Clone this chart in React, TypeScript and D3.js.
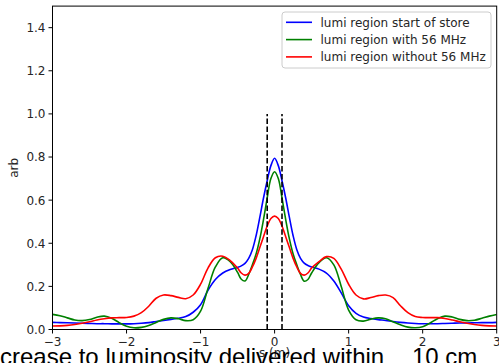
import React from "react";
import * as d3 from "d3";

const S = [
  -3.0, -2.9, -2.8, -2.7, -2.6, -2.5, -2.4, -2.3, -2.2, -2.1, -2.0, -1.9, -1.8, -1.7, -1.6, -1.5, -1.4, -1.3, -1.2, -1.1, -1.0, -0.9, -0.8, -0.7, -0.6,
  -0.5, -0.45, -0.4, -0.35, -0.3, -0.25, -0.2, -0.15, -0.1, -0.05, 0, 0.05, 0.1, 0.15, 0.2, 0.25, 0.3, 0.35, 0.4, 0.45, 0.5,
  0.6, 0.7, 0.8, 0.9, 1.0, 1.1, 1.2, 1.3, 1.4, 1.5, 1.6, 1.7, 1.8, 1.9, 2.0, 2.1, 2.2, 2.3, 2.4, 2.5, 2.6, 2.7, 2.8, 2.9, 3.0,
];

const blueStart = [
  0.033, 0.032, 0.031, 0.030, 0.029, 0.028, 0.027, 0.027, 0.026, 0.026, 0.026, 0.027, 0.029, 0.032, 0.037, 0.042, 0.047, 0.052, 0.060, 0.080, 0.115, 0.182, 0.232, 0.262, 0.278,
  0.288, 0.295, 0.307, 0.33, 0.37, 0.435, 0.52, 0.61, 0.69, 0.76, 0.794, 0.76, 0.69, 0.61, 0.52, 0.435, 0.37, 0.33, 0.308, 0.297, 0.29,
  0.28, 0.262, 0.225, 0.17, 0.11, 0.075, 0.058, 0.051, 0.046, 0.042, 0.037, 0.033, 0.030, 0.028, 0.027, 0.027, 0.027, 0.028, 0.029, 0.030, 0.030, 0.031, 0.032, 0.032, 0.033,
];

const greenWith = [
  0.070, 0.064, 0.054, 0.044, 0.041, 0.046, 0.057, 0.062, 0.052, 0.032, 0.015, 0.008, 0.010, 0.019, 0.033, 0.047, 0.054, 0.050, 0.041, 0.045, 0.085, 0.19, 0.29, 0.333, 0.315,
  0.265, 0.233, 0.225, 0.255, 0.30, 0.35, 0.42, 0.51, 0.61, 0.70, 0.732, 0.70, 0.61, 0.51, 0.42, 0.35, 0.30, 0.255, 0.224, 0.232, 0.262,
  0.31, 0.333, 0.30, 0.20, 0.09, 0.045, 0.039, 0.048, 0.054, 0.050, 0.036, 0.022, 0.011, 0.008, 0.013, 0.030, 0.050, 0.062, 0.058, 0.047, 0.041, 0.043, 0.052, 0.062, 0.070,
];

const redWithout = [
  0.016, 0.017, 0.019, 0.023, 0.029, 0.036, 0.044, 0.050, 0.054, 0.055, 0.056, 0.062, 0.078, 0.108, 0.145, 0.160, 0.157, 0.149, 0.143, 0.160, 0.21, 0.285, 0.333, 0.340, 0.32,
  0.285, 0.262, 0.252, 0.26, 0.29, 0.33, 0.38, 0.43, 0.48, 0.515, 0.526, 0.515, 0.48, 0.43, 0.38, 0.33, 0.29, 0.26, 0.252, 0.262, 0.285,
  0.315, 0.338, 0.33, 0.28, 0.21, 0.16, 0.142, 0.148, 0.157, 0.160, 0.148, 0.110, 0.078, 0.060, 0.056, 0.055, 0.055, 0.051, 0.044, 0.036, 0.029, 0.023, 0.019, 0.017, 0.016,
];

const seriesNames = ["lumi region start of store", "lumi region with 56 MHz", "lumi region without 56 MHz"];
const seriesColors = ["#0000ff", "#008000", "#ff0000"];
const seriesValues = [blueStart, greenWith, redWithout];

const xTicks = [-3, -2, -1, 0, 1, 2, 3];
const yTicks = [0, 0.2, 0.4, 0.6, 0.8, 1.0, 1.2, 1.4];
const dashedX = [-0.1, 0.1];
const dashedTop = 1.0;

const W = 499;
const H = 363;
const L = 52.5, R = 496.7, T = 6.1, B = 329.5;

export default function App() {
  const x = d3.scaleLinear().domain([-3, 3]).range([L, R]);
  const y = d3.scaleLinear().domain([0, 1.5]).range([B, T]);
  const line = d3
    .line<number>()
    .x((_, i) => x(S[i]))
    .y((v) => y(v))
    .curve(d3.curveCatmullRom.alpha(0.5));
  const fmtMinus = (v: number) => String(v).replace("-", "\u2212");
  const font = "'DejaVu Sans', sans-serif";

  return (
    <div style={{ position: "fixed", left: 0, top: 0 }}>
      <svg width={W} height={H} style={{ display: "block", background: "#fff" }}>
        <defs>
          <clipPath id="plotclip">
            <rect x={L} y={T} width={R - L} height={B - T} />
          </clipPath>
        </defs>
        <rect x={0} y={0} width={W} height={H} fill="#fff" />
        <g clipPath="url(#plotclip)">
          {seriesValues.map((vals, k) => (
            <path key={k} d={line(vals) || ""} fill="none" stroke={seriesColors[k]} strokeWidth={1.6} />
          ))}
          {dashedX.map((d, i) => (
            <line key={i} x1={x(d)} x2={x(d)} y1={y(0)} y2={y(dashedTop)} stroke="#000" strokeWidth={1.6} strokeDasharray="5.5,2.4" />
          ))}
        </g>
        <rect x={L} y={T} width={R - L} height={B - T} fill="none" stroke="#000" strokeWidth={1} />
        {xTicks.map((t) => (
          <g key={t}>
            <line x1={x(t)} x2={x(t)} y1={B} y2={B + 4} stroke="#000" strokeWidth={1} />
            <text x={x(t)} y={B + 16} textAnchor="middle" fontFamily={font} fontSize={12} fill="#262626">
              {fmtMinus(t)}
            </text>
          </g>
        ))}
        {yTicks.map((t) => (
          <g key={t}>
            <line x1={L - 4} x2={L} y1={y(t)} y2={y(t)} stroke="#000" strokeWidth={1} />
            <text x={L - 7} y={y(t) + 4.4} textAnchor="end" fontFamily={font} fontSize={12} fill="#262626">
              {t.toFixed(1)}
            </text>
          </g>
        ))}
        <text transform={`translate(18,${(T + B) / 2}) rotate(-90)`} textAnchor="middle" fontFamily={font} fontSize={12} fill="#262626">
          arb
        </text>
        <text x={x(0)} y={357} textAnchor="middle" fontFamily={font} fontSize={12} fill="#262626">
          s (m)
        </text>
        <g>
          <rect x={282} y={12} width={209} height={56} rx={3} fill="#fff" fillOpacity={0.8} stroke="#cccccc" strokeWidth={1} />
          {seriesNames.map((n, k) => (
            <g key={n}>
              <line x1={286} x2={312} y1={22.3 + k * 17.3} y2={22.3 + k * 17.3} stroke={seriesColors[k]} strokeWidth={1.6} />
              <text x={320.5} y={22.3 + k * 17.3 + 4.4} fontFamily={font} fontSize={12} fill="#262626">
                {n}
              </text>
            </g>
          ))}
        </g>
        <text x={0} y={365} fontFamily="'Liberation Sans', Arial, sans-serif" fontSize={24} fill="#000">
          crease to luminosity delivered within
        </text>
        <text x={412} y={365} fontFamily="'Liberation Sans', Arial, sans-serif" fontSize={24} fill="#000">
          10 cm
        </text>
      </svg>
    </div>
  );
}
